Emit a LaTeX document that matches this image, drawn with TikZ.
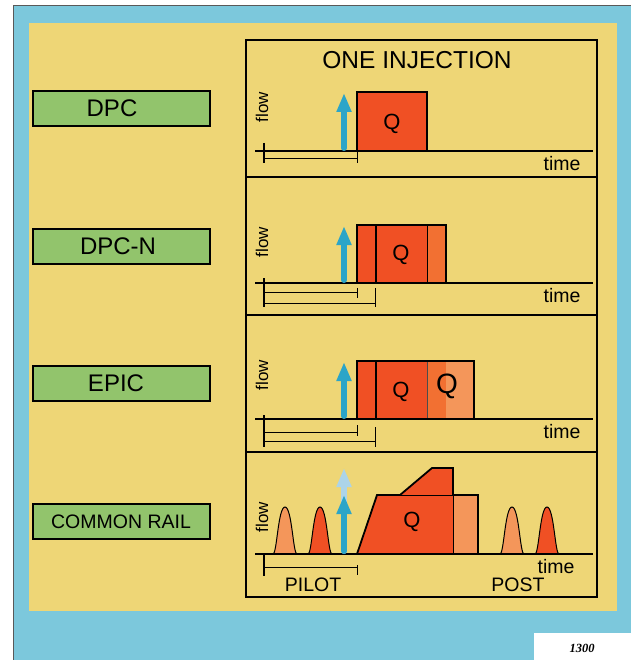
\documentclass[tikz,border=0pt]{standalone}
\usepackage{fontspec}
\setmainfont{Liberation Sans}
\newfontfamily\platefont{Liberation Serif}
\usetikzlibrary{arrows.meta}

\definecolor{frameblue}{RGB}{124,200,220}
\definecolor{paper}{RGB}{238,214,118}
\definecolor{labelgreen}{RGB}{146,196,108}
\definecolor{fuelred}{RGB}{240,80,36}
\definecolor{fuelmid}{RGB}{242,112,50}
\definecolor{fuellight}{RGB}{244,150,90}
\definecolor{jetblue}{RGB}{43,165,200}
\definecolor{jetpale}{RGB}{172,212,232}

\newcommand{\setfs}[1]{\fontsize{#1}{#1}\selectfont}

\tikzset{
  panelline/.style={line width=2.4pt},
  axisline/.style={line width=1.8pt},
  bracketline/.style={line width=0.8pt},
  sysbox/.style={draw=black,line width=2pt,fill=labelgreen,minimum width=177pt,minimum height=35pt,inner sep=0pt},
  fuelbox/.style={draw=black,line width=1.8pt},
  jet/.style={line width=6pt,line cap=round,-{Triangle[width=14pt,length=19pt]}},
}

\begin{document}
\begin{tikzpicture}[x=1pt,y=-1pt]

\useasboundingbox (0,0) rectangle (631,660);
\fill[frameblue] (13,6) rectangle (631,660);
\draw[black!65,line width=1pt] (13,660) -- (13,6) -- (631,6);
\fill[paper] (29,23) rectangle (617,611);
\fill[white] (534,633) rectangle (631,660);
\node[font=\platefont\bfseries\itshape\setfs{12.5}] (plate) at (582,648) {1300};

% system names
\node[sysbox] (dpc)    at (121.5,108.5) {};
\node[sysbox] (dpcn)   at (121.5,246)   {};
\node[sysbox] (epic)   at (121.5,383)   {};
\node[sysbox] (crail)  at (121.5,521.5) {};
\node[font=\setfs{24}] (dpctxt)   at (112,108.5) {DPC};
\node[font=\setfs{24}] (dpcntxt)  at (118,246)   {DPC-N};
\node[font=\setfs{24}] (epictxt)  at (116,383)   {EPIC};
\node[font=\setfs{19.5}] (crailtxt) at (121,521.5) {COMMON RAIL};

% frame of the four panels
\draw[panelline] (246,40) rectangle (597,597);
\foreach \y in {177,315,452}
  \draw[panelline] (246,\y) -- (597,\y);
\node[font=\setfs{24.5}] (title) at (417,60) {ONE INJECTION};

% fuel blocks
\filldraw[fuelbox,fill=fuelred] (357,92) rectangle (427,151);
\node[font=\setfs{22}] (q1) at (392,124) {Q};

\fill[fuelred] (357,225) rectangle (427,283);
\fill[fuelmid] (427,225) rectangle (446,283);
\draw[line width=0.8pt] (427,225) -- (427,283);
\draw[fuelbox] (376,225) -- (376,283);
\draw[fuelbox] (357,225) rectangle (446,283);
\node[font=\setfs{22}] (q2) at (401,255) {Q};

\fill[fuelred] (357,361) rectangle (427,419);
\fill[fuelmid] (427,361) rectangle (446,419);
\fill[fuellight] (446,361) rectangle (474,419);
\draw[line width=0.6pt,black!70] (427,361) -- (427,419);
\draw[fuelbox] (376,361) -- (376,419);
\draw[fuelbox] (357,361) rectangle (474,419);
\node[font=\setfs{22}] (q3) at (401,392) {Q};
\node[font=\setfs{28}] (q3b) at (447,386) {Q};

\fill[fuelred] (357,554) -- (377,495) -- (400,495) -- (432,468) -- (453,468) -- (453,554) -- cycle;
\fill[fuellight] (453,495) rectangle (478,554);
\draw[line width=1pt] (400,495) -- (453,495);
\draw[line width=1pt] (453,495) -- (453,554);
\draw[fuelbox,line join=miter] (357,554) -- (377,495) -- (400,495) -- (432,468) -- (453,468) -- (453,495) -- (478,495) -- (478,554) -- cycle;
\node[font=\setfs{22}] (q4) at (412,522) {Q};

% pilot and post bumps
\foreach \cx/\col in {285/fuellight,320/fuelred,512/fuellight,547/fuelred}
  \filldraw[draw=black,line width=1pt,fill=\col] (\cx-12,554) .. controls (\cx-8,554) and (\cx-7,507) .. (\cx,507) .. controls (\cx+7,507) and (\cx+8,554) .. (\cx+12,554);

% axes and labels
\foreach \ya/\xt in {151/562,283/562,419/562,554/556} {
  \draw[axisline] (255,\ya) -- (593,\ya);
  \node[font=\setfs{19.5}] at (\xt,\ya+13) {time};
}
\foreach \yf in {107,242,375,517}
  \node[font=\setfs{17},rotate=90] at (262,\yf) {flow};

% start of injection
\draw[jet,draw=jetblue,fill=jetblue] (344,148) -- (344,93);
\draw[jet,draw=jetblue,fill=jetblue] (344,280) -- (344,226);
\draw[jet,draw=jetblue,fill=jetblue] (344,416) -- (344,362);
\draw[jet,draw=jetpale,fill=jetpale] (344,551) -- (344,468);
\draw[jet,draw=jetblue,fill=jetblue] (344,551) -- (344,495);

% delays
\draw[line width=1.2pt] (264,143) -- (264,163);
\draw[bracketline] (264,158) -- (357,158);
\draw[bracketline] (357,152) -- (357,163);

\draw[line width=1.2pt] (264,278) -- (264,307);
\draw[bracketline] (264,292) -- (357,292);
\draw[bracketline] (357,288) -- (357,298);
\draw[bracketline] (264,303) -- (375,303);
\draw[bracketline] (375,288) -- (375,307);

\draw[line width=1.2pt] (264,415) -- (264,447);
\draw[bracketline] (264,432) -- (357,432);
\draw[bracketline] (357,425) -- (357,436);
\draw[bracketline] (264,441) -- (375,441);
\draw[bracketline] (375,427) -- (375,447);

\draw[line width=1.2pt] (264,555) -- (264,576);
\draw[bracketline] (264,567) -- (357,567);
\draw[bracketline] (357,565) -- (357,575);
\node[font=\setfs{19.5}] (pilot) at (313,585) {PILOT};
\node[font=\setfs{19.5}] (post) at (518,585) {POST};

\end{tikzpicture}
\end{document}
